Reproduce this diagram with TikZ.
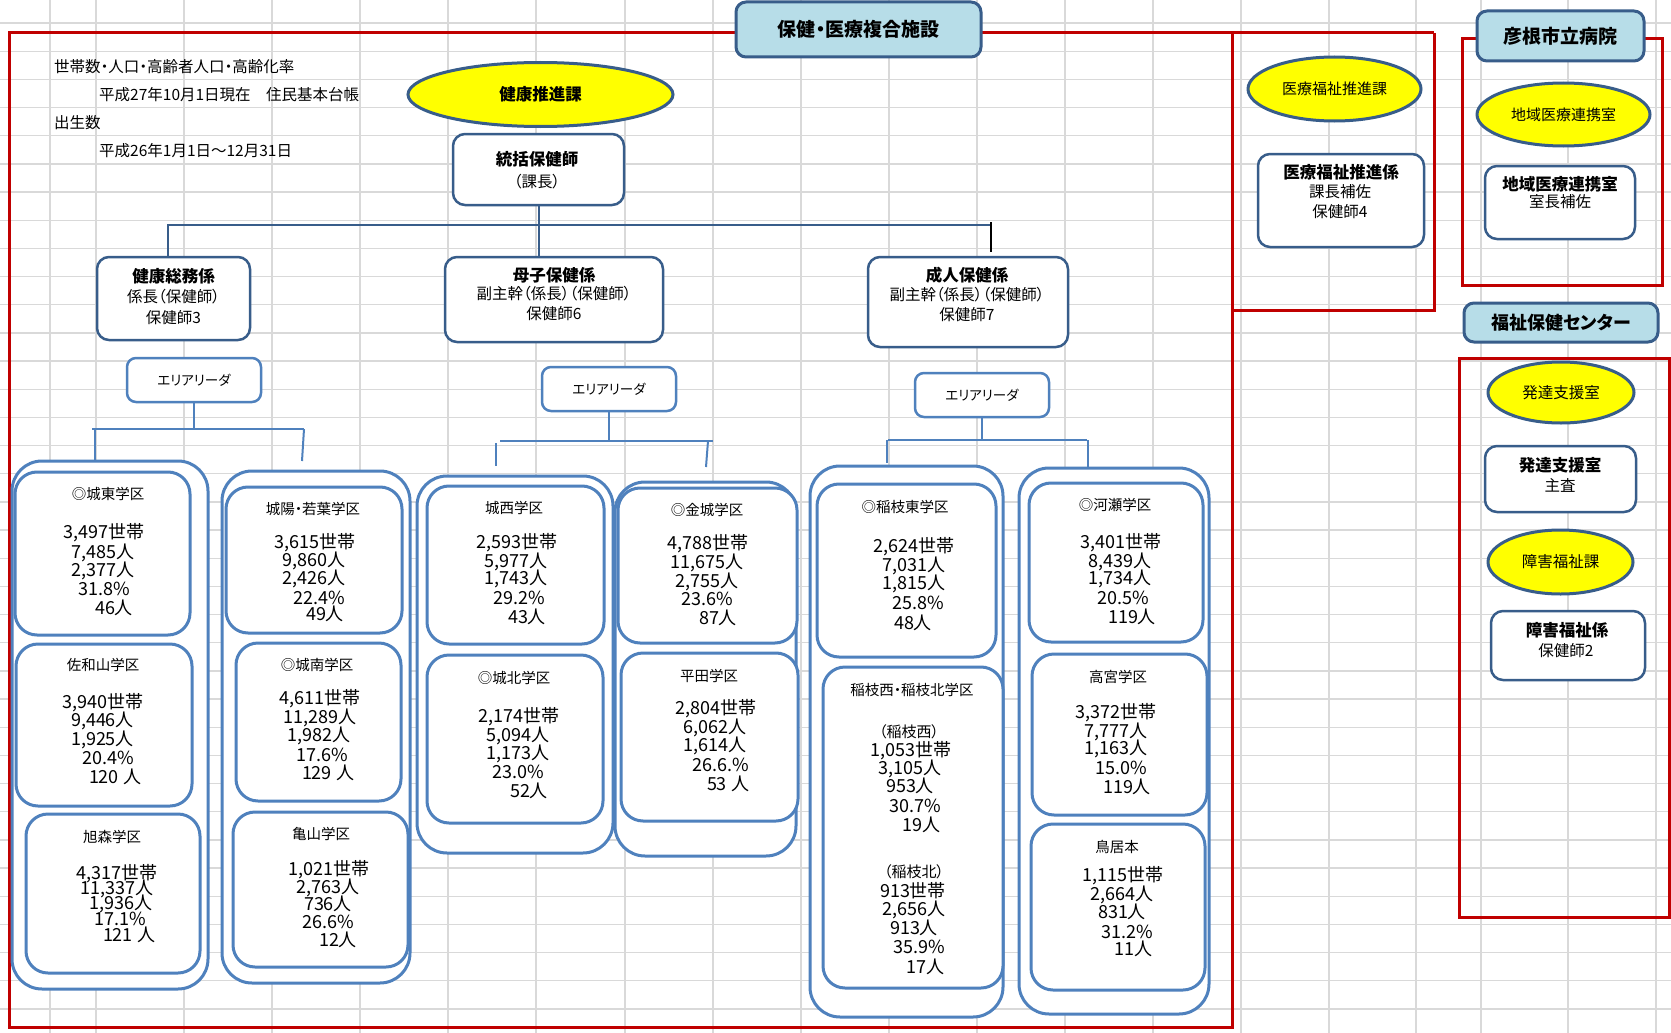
\documentclass[tikz,border=0pt]{standalone}
\usepackage{fontspec}
\setmainfont{Noto Sans CJK JP}[RawFeature=+palt]
\usetikzlibrary{shapes.geometric}
\definecolor{xred}{RGB}{192,0,0}
\definecolor{dkblue}{RGB}{56,93,138}
\definecolor{mdblue}{RGB}{79,129,189}
\definecolor{hdrblue}{RGB}{183,221,232}
\definecolor{gridgray}{RGB}{217,217,217}
\definecolor{yel}{RGB}{255,255,0}
\tikzset{
 txt/.style={font=\fontsize{#1pt}{#1pt}\selectfont, inner sep=0pt, text height={0.88*#1pt}, text depth={0.12*#1pt}},
 num/.style={txt=18},
 ttl/.style={txt=14.5},
 btxt/.style={txt=16.5, font=\fontsize{16.5pt}{16.5pt}\selectfont\bfseries},
 rtxt/.style={txt=15.5},
 wh/.style n args={2}{minimum width=#1pt, minimum height=#2pt},
 gridline/.style={draw=gridgray, line width=1.3pt},
 redline/.style={draw=xred, line width=3pt},
 hdrbox/.style={draw=dkblue, fill=hdrblue, line width=3pt, rounded corners=10pt, inner sep=0pt},
 orgbox/.style={draw=dkblue, fill=white, line width=2.5pt, rounded corners=12pt, inner sep=0pt},
 areabox/.style={draw=mdblue, fill=white, line width=2.5pt, rounded corners=9pt, inner sep=0pt},
 outbox/.style={draw=mdblue, fill=white, line width=3pt, rounded corners=30pt, inner sep=0pt},
 inbox/.style={draw=mdblue, fill=white, line width=3pt, rounded corners=22pt, inner sep=0pt},
 oval/.style={ellipse, draw=dkblue, fill=yel, line width=3pt, inner sep=0pt},
 topconn/.style={draw=dkblue, line width=2pt},
 areaconn/.style={draw=mdblue, line width=2pt},
}
\begin{document}
\begin{tikzpicture}[x=1pt,y=-1pt]
\fill[white] (0,0) rectangle (1671,1033);
\useasboundingbox (0,0) rectangle (1671,1033);
% spreadsheet grid
\foreach \gx in {50,96,184,272,360,448,536,625,713,801,889,977,1065,1153,1241,1329,1416,1481,1568,1656}
  \draw[gridline] (\gx,0) -- (\gx,1033);
\foreach \k in {0,...,35}
  \draw[gridline] (0,{23+28.17*\k}) -- (1671,{23+28.17*\k});
% red frames
\draw[redline] (1434,33) -- (9,33) -- (9,1027) -- (1232,1027) -- (1232,33);
\draw[redline] (1232,310) -- (1434,310) -- (1434,33);
\draw[redline] (1462,39) rectangle (1662,285);
\draw[redline] (1669.5,358) -- (1459,358) -- (1459,917) -- (1669.5,917) -- cycle;
% headers
\node[hdrbox, wh={245}{55}] (hq) at (858.5,29.5) {\fontsize{19pt}{19pt}\selectfont\bfseries 保健・医療複合施設};
\node[hdrbox, wh={167}{50}] (hosp) at (1560.5,36) {\fontsize{19pt}{19pt}\selectfont\bfseries 彦根市立病院};
\node[hdrbox, wh={194}{39}] (fukushi) at (1561,322.5) {\fontsize{18pt}{18pt}\selectfont\bfseries 福祉保健センター};
% info text
\node[rtxt, anchor=west] (info1) at (54,67) {世帯数・人口・高齢者人口・高齢化率};
\node[rtxt, anchor=west] (info2) at (99,95) {平成27年10月1日現在　住民基本台帳};
\node[rtxt, anchor=west] (info3) at (54,123) {出生数};
\node[rtxt, anchor=west] (info4) at (99,151) {平成26年1月1日～12月31日};
% ellipses
\node[oval, wh={265}{64}] (kenkoka) at (540.5,94.5) {\fontsize{16.5pt}{16.5pt}\selectfont\bfseries 健康推進課};
\node[oval, wh={173}{64}] (iryoka) at (1334.5,89) {\fontsize{15pt}{15pt}\selectfont 医療福祉推進課};
\node[oval, wh={173}{63}] (chiikiov) at (1563.5,114.5) {\fontsize{15pt}{15pt}\selectfont 地域医療連携室};
\node[oval, wh={146}{61}] (hattatsuov) at (1561,392.5) {\fontsize{15.5pt}{15.5pt}\selectfont 発達支援室};
\node[oval, wh={145}{64}] (shogaiov) at (1560.5,562) {\fontsize{15.5pt}{15.5pt}\selectfont 障害福祉課};
% org boxes
\node[orgbox, wh={171}{71}] (tok) at (538.5,169.5) {};
\node[btxt] (tokT1) at (537,159) {統括保健師};
\node[rtxt] (tokT2) at (537,182) {（課長）};
\node[orgbox, wh={153}{83}] (somu) at (173.5,298.5) {};
\node[btxt] (somuT1) at (173.5,276) {健康総務係};
\node[rtxt] (somuT2) at (173.5,297) {係長（保健師）};
\node[rtxt] (somuT3) at (173.5,318) {保健師3};
\node[orgbox, wh={218}{85}] (boshi) at (554,299.5) {};
\node[btxt] (boshiT1) at (554,275) {母子保健係};
\node[rtxt] (boshiT2) at (554,294) {副主幹（係長）（保健師）};
\node[rtxt] (boshiT3) at (554,314) {保健師6};
\node[orgbox, wh={200}{90}] (seijin) at (968,302) {};
\node[btxt] (seijinT1) at (967,275) {成人保健係};
\node[rtxt] (seijinT2) at (967,295) {副主幹（係長）（保健師）};
\node[rtxt] (seijinT3) at (967,315) {保健師7};
\node[orgbox, wh={166}{93}] (iryokakari) at (1341,200.5) {};
\node[btxt] (iryoT1) at (1341,172) {医療福祉推進係};
\node[rtxt] (iryoT2) at (1340,192) {課長補佐};
\node[rtxt] (iryoT3) at (1340,212) {保健師4};
\node[orgbox, wh={150}{73}] (chiikibox) at (1560,202.5) {};
\node[btxt] (chiikiT1) at (1560,184) {地域医療連携室};
\node[rtxt] (chiikiT2) at (1560,202) {室長補佐};
\node[orgbox, wh={151}{66}] (hattatsubox) at (1560.5,479) {};
\node[btxt] (hatT1) at (1560,465) {発達支援室};
\node[rtxt] (hatT2) at (1560,486) {主査};
\node[orgbox, wh={154}{69}] (shogaibox) at (1568,645.5) {};
\node[btxt] (shoT1) at (1567,630) {障害福祉係};
\node[rtxt] (shoT2) at (1566,651) {保健師2};
% top connectors
\coordinate (jL) at (168,225);
\coordinate (jR) at (991,225);
\coordinate (tkA) at (991,222);
\coordinate (tkB) at (991,252);
\draw[topconn] (tok.south) -- (tok.south |- boshi.north);
\draw[topconn] (jL |- somu.north) -- (jL) -- (jR);
\draw[black, line width=1.5pt] (tkA) -- (tkB);
% area leader boxes
\node[areabox, wh={134}{44}] (aL) at (194,380) {\fontsize{13.5pt}{13.5pt}\selectfont エリアリーダ};
\node[areabox, wh={134}{44}] (aM) at (609,389) {\fontsize{13.5pt}{13.5pt}\selectfont エリアリーダ};
\node[areabox, wh={134}{44}] (aR) at (982,395) {\fontsize{13.5pt}{13.5pt}\selectfont エリアリーダ};
% outer containers
\node[outbox, wh={196}{528}] (c1) at (110,725) {};
\node[outbox, wh={188}{512}] (c2) at (316,727) {};
\node[outbox, wh={196}{377}] (c3) at (515,664.5) {};
\node[outbox, wh={181}{374}] (c4) at (705.5,669) {};
\node[outbox, wh={193}{551}] (c5) at (906.5,741.5) {};
\node[outbox, wh={190}{546}] (c6) at (1114,741) {};
% area connectors
\coordinate (aLh) at (194,429); \coordinate (aLa) at (92,429); \coordinate (aLb) at (304,429);
\coordinate (aL1) at (95,429); \coordinate (aL1e) at (95,461); \coordinate (aL2e) at (302,461);
\draw[areaconn] (aL.south) -- (aLh);
\draw[areaconn] (aLa) -- (aLb);
\draw[areaconn] (aL1) -- (aL1e);
\draw[areaconn] (aLb) -- (aL2e);
\coordinate (aMh) at (609,441); \coordinate (aMa) at (500,441); \coordinate (aMb) at (713,441);
\coordinate (aM1) at (496,443); \coordinate (aM1e) at (496,466); \coordinate (aM2) at (708,441); \coordinate (aM2e) at (706,467);
\draw[areaconn] (aM.south) -- (aMh);
\draw[areaconn] (aMa) -- (aMb);
\draw[areaconn] (aM1) -- (aM1e);
\draw[areaconn] (aM2) -- (aM2e);
\coordinate (aRh) at (982,440); \coordinate (aRa) at (888,440); \coordinate (aRb) at (1087,440);
\coordinate (aR1) at (887,440); \coordinate (aR1e) at (887,463); \coordinate (aR2) at (1088,440); \coordinate (aR2e) at (1088,467);
\draw[areaconn] (aR.south) -- (aRh);
\draw[areaconn] (aRa) -- (aRb);
\draw[areaconn] (aR1) -- (aR1e);
\draw[areaconn] (aR2) -- (aR2e);
% inner district boxes
\node[inbox, wh={175}{163}] (joto) at (102.5,553.5) {};
\node[inbox, wh={176}{162}] (sawa) at (104,725) {};
\node[inbox, wh={174}{159}] (asahi) at (113,893.5) {};
\node[inbox, wh={176}{146}] (joyo) at (314,560) {};
\node[inbox, wh={165}{158}] (jonan) at (318.5,722) {};
\node[inbox, wh={175}{155}] (kame) at (320.5,889.5) {};
\node[inbox, wh={177}{158}] (josei) at (515.5,565) {};
\node[inbox, wh={176}{168}] (johoku) at (515,739) {};
\node[inbox, wh={179}{155}] (kinjo) at (707.5,565.5) {};
\node[inbox, wh={177}{168}] (hirata) at (709.5,737) {};
\node[inbox, wh={179}{173}] (inaeh) at (906.5,570.5) {};
\node[inbox, wh={180}{321}] (inaenw) at (913,827.5) {};
\node[inbox, wh={174}{159}] (kawase) at (1116,562.5) {};
\node[inbox, wh={175}{161}] (takamiya) at (1119.5,734.5) {};
\node[inbox, wh={174}{166}] (toriimoto) at (1118,907) {};
% district texts
\node[ttl] (jotoT) at (108,494) {◎城東学区};
\node[num] (joto1) at (104,532) {3,497世帯};
\node[num] (joto2) at (103,552) {7,485人};
\node[num] (joto3) at (103,570) {2,377人};
\node[num] (joto4) at (104,589) {31.8\%};
\node[num] (joto5) at (114,608) {46人};
\node[ttl] (sawaT) at (103,665) {佐和山学区};
\node[num] (sawa1) at (103,702) {3,940世帯};
\node[num] (sawa2) at (102.5,720) {9,446人};
\node[num] (sawa3) at (102.5,739) {1,925人};
\node[num] (sawa4) at (108,758) {20.4\%};
\node[num] (sawa5) at (115,777) {120 人};
\node[ttl] (asahiT) at (112,837) {旭森学区};
\node[num] (asahi1) at (117,873) {4,317世帯};
\node[num] (asahi2) at (117,888) {11,337人};
\node[num] (asahi3) at (121,903) {1,936人};
\node[num] (asahi4) at (120,919) {17.1\%};
\node[num] (asahi5) at (129,935) {121 人};
\node[ttl] (joyoT) at (313,509) {城陽・若葉学区};
\node[num] (joyo1) at (315,542) {3,615世帯};
\node[num] (joyo2) at (314,560) {9,860人};
\node[num] (joyo3) at (314,578) {2,426人};
\node[num] (joyo4) at (319,598) {22.4\%};
\node[num] (joyo5) at (325,614) {49人};
\node[ttl] (jonanT) at (317,665) {◎城南学区};
\node[num] (jonan1) at (320,698) {4,611世帯};
\node[num] (jonan2) at (320,717) {11,289人};
\node[num] (jonan3) at (319,735) {1,982人};
\node[num] (jonan4) at (322,755) {17.6\%};
\node[num] (jonan5) at (328,773) {129 人};
\node[ttl] (kameT) at (321,834) {亀山学区};
\node[num] (kame1) at (329,869) {1,021世帯};
\node[num] (kame2) at (328,887) {2,763人};
\node[num] (kame3) at (328,904) {736人};
\node[num] (kame4) at (328,922) {26.6\%};
\node[num] (kame5) at (338,940) {12人};
\node[ttl] (joseiT) at (514,508) {城西学区};
\node[num] (josei1) at (517,542) {2,593世帯};
\node[num] (josei2) at (516,561) {5,977人};
\node[num] (josei3) at (516,578) {1,743人};
\node[num] (josei4) at (519,598) {29.2\%};
\node[num] (josei5) at (527,617) {43人};
\node[ttl] (johokuT) at (514,678) {◎城北学区};
\node[num] (johoku1) at (519,716) {2,174世帯};
\node[num] (johoku2) at (518,735) {5,094人};
\node[num] (johoku3) at (518,753) {1,173人};
\node[num] (johoku4) at (518,772) {23.0\%};
\node[num] (johoku5) at (529,791) {52人};
\node[ttl] (kinjoT) at (707,510) {◎金城学区};
\node[num] (kinjo1) at (708,543) {4,788世帯};
\node[num] (kinjo2) at (707,562) {11,675人};
\node[num] (kinjo3) at (707,581) {2,755人};
\node[num] (kinjo4) at (707,599) {23.6\%};
\node[num] (kinjo5) at (718,618) {87人};
\node[ttl] (hirataT) at (709,676) {平田学区};
\node[num] (hirata1) at (716,708) {2,804世帯};
\node[num] (hirata2) at (715,727) {6,062人};
\node[num] (hirata3) at (715,745) {1,614人};
\node[num] (hirata4) at (721,765) {26.6.\%};
\node[num] (hirata5) at (728,784) {53 人};
\node[ttl] (inaehT) at (905,507) {◎稲枝東学区};
\node[num] (inaeh1) at (914,546) {2,624世帯};
\node[num] (inaeh2) at (914,565) {7,031人};
\node[num] (inaeh3) at (914,583) {1,815人};
\node[num] (inaeh4) at (918,603) {25.8\%};
\node[num] (inaeh5) at (913,623) {48人};
\node[ttl] (inaenwT) at (912,690) {稲枝西・稲枝北学区};
\node[txt=15] (inaenwA) at (909,732) {（稲枝西）};
\node[num] (inaenw1) at (911,750) {1,053世帯};
\node[num] (inaenw2) at (910,768) {3,105人};
\node[num] (inaenw3) at (910,786) {953人};
\node[num] (inaenw4) at (915,806) {30.7\%};
\node[num] (inaenw5) at (921,825) {19人};
\node[txt=15] (inaenwB) at (914,872) {（稲枝北）};
\node[num] (inaenw6) at (913,891) {913世帯};
\node[num] (inaenw7) at (914,909) {2,656人};
\node[num] (inaenw8) at (914,928) {913人};
\node[num] (inaenw9) at (919,947) {35.9\%};
\node[num] (inaenw10) at (925,967) {17人};
\node[ttl] (kawaseT) at (1115,505) {◎河瀬学区};
\node[num] (kawase1) at (1121,542) {3,401世帯};
\node[num] (kawase2) at (1120,561) {8,439人};
\node[num] (kawase3) at (1120,578) {1,734人};
\node[num] (kawase4) at (1123,598) {20.5\%};
\node[num] (kawase5) at (1132,617) {119人};
\node[ttl] (takamiyaT) at (1118,677) {高宮学区};
\node[num] (takamiya1) at (1116,712) {3,372世帯};
\node[num] (takamiya2) at (1116,731) {7,777人};
\node[num] (takamiya3) at (1116,748) {1,163人};
\node[num] (takamiya4) at (1121,768) {15.0\%};
\node[num] (takamiya5) at (1127,787) {119人};
\node[ttl] (toriiT) at (1117,847) {鳥居本};
\node[num] (torii1) at (1123,875) {1,115世帯};
\node[num] (torii2) at (1122,894) {2,664人};
\node[num] (torii3) at (1122,912) {831人};
\node[num] (torii4) at (1127,932) {31.2\%};
\node[num] (torii5) at (1133,949) {11人};
\end{tikzpicture}
\end{document}
